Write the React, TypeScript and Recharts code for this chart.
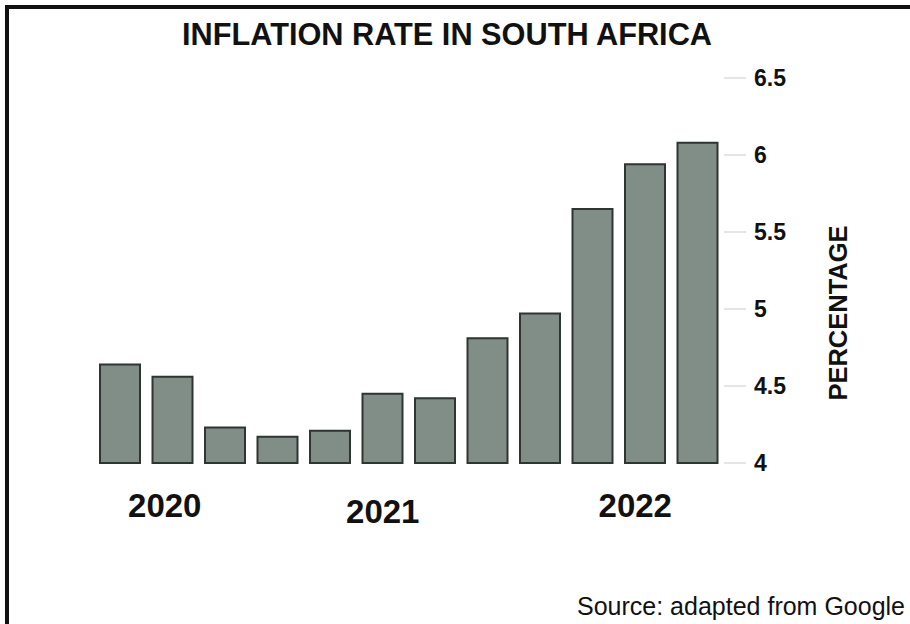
import { BarChart, Bar, XAxis, YAxis, Cell } from 'recharts'

// quarterly periods, Jan 2020 .. Dec 2022
const periods = [
  '2020 Q1', '2020 Q2', '2020 Q3', '2020 Q4',
  '2021 Q1', '2021 Q2', '2021 Q3', '2021 Q4',
  '2022 Q1', '2022 Q2', '2022 Q3', '2022 Q4',
]
const inflation = [4.64, 4.56, 4.23, 4.17, 4.21, 4.45, 4.42, 4.81, 4.97, 5.65, 5.94, 6.08]
const yTicks = [4, 4.5, 5, 5.5, 6, 6.5]
// which period carries the year label underneath
const yearLabels: Record<string, string> = {
  '2020 Q2': '2020',
  '2021 Q2': '2021',
  '2022 Q3': '2022',
}

const data = periods.map((p, i) => ({ period: p, rate: inflation[i] }))

const FONT = '"Liberation Sans", Arial, Helvetica, sans-serif'
const BAR_FILL = '#818d87'
const BAR_EDGE = '#2e3533'

// small nudges so the year labels sit like the printed ones
const yearNudge: Record<string, { dx: number; dy: number }> = {
  '2020': { dx: -8, dy: 54 },
  '2021': { dx: 0, dy: 60 },
  '2022': { dx: -10, dy: 54 },
}

function YearTick(props: any) {
  const { x, y, payload } = props
  const label = yearLabels[payload.value]
  if (!label) return null
  const n = yearNudge[label]
  return (
    <text x={x + n.dx} y={y + n.dy} textAnchor="middle" fontFamily={FONT}
      fontWeight="bold" fontSize={33} fill="#111">
      {label}
    </text>
  )
}

function AxisTitle(props: any) {
  const { viewBox } = props
  const cx = viewBox.x + 114
  const cy = viewBox.y + 235
  return (
    <text x={cx} y={cy} transform={`rotate(-90 ${cx} ${cy})`} textAnchor="middle"
      dominantBaseline="central" fontFamily={FONT} fontWeight="bold" fontSize={25.5} fill="#111">
      PERCENTAGE
    </text>
  )
}

export default function App() {
  return (
    <div style={{ position: 'absolute', left: 0, top: 0, width: 910, height: 624, background: '#fff', overflow: 'hidden' }}>
      {/* scanned frame */}
      <div style={{
        position: 'absolute', left: 5, top: 5, width: 925, height: 615,
        borderTop: '4px solid #111', borderLeft: '4px solid #111', borderBottom: '1px solid #bbb',
      }} />

      <svg width={910} height={624} style={{ position: 'absolute', left: 0, top: 0 }}>
        <text x={447} y={45} textAnchor="middle" fontFamily={FONT} fontWeight="bold" fontSize={32}
          textLength={530} lengthAdjust="spacingAndGlyphs" fill="#111">
          INFLATION RATE IN SOUTH AFRICA
        </text>
        <text x={905} y={615} textAnchor="end" fontFamily={FONT} fontSize={25} fill="#111">
          Source: adapted from Google
        </text>
      </svg>

      <div style={{ position: 'absolute', left: 0, top: 0 }}>
        <BarChart width={910} height={624} data={data}
          margin={{ top: 78, right: 56, bottom: 101, left: 94 }}>
          <XAxis dataKey="period" height={60} interval={0} axisLine={false} tickLine={false}
            tickSize={0} tickMargin={0} tick={<YearTick />} />
          <YAxis orientation="right" width={130} domain={[4, 6.5]} ticks={yTicks}
            axisLine={false} tickSize={22} tickMargin={8}
            tickLine={{ stroke: '#dcdcdc', strokeWidth: 1.5 }}
            tick={{ fontFamily: FONT, fontWeight: 'bold', fontSize: 23, fill: '#111' }}
            label={<AxisTitle />} />
          <Bar dataKey="rate" barSize={40} isAnimationActive={false}
            fill={BAR_FILL} stroke={BAR_EDGE} strokeWidth={2}>
            {data.map((d) => (
              <Cell key={d.period} fill={BAR_FILL} />
            ))}
          </Bar>
        </BarChart>
      </div>
    </div>
  )
}
